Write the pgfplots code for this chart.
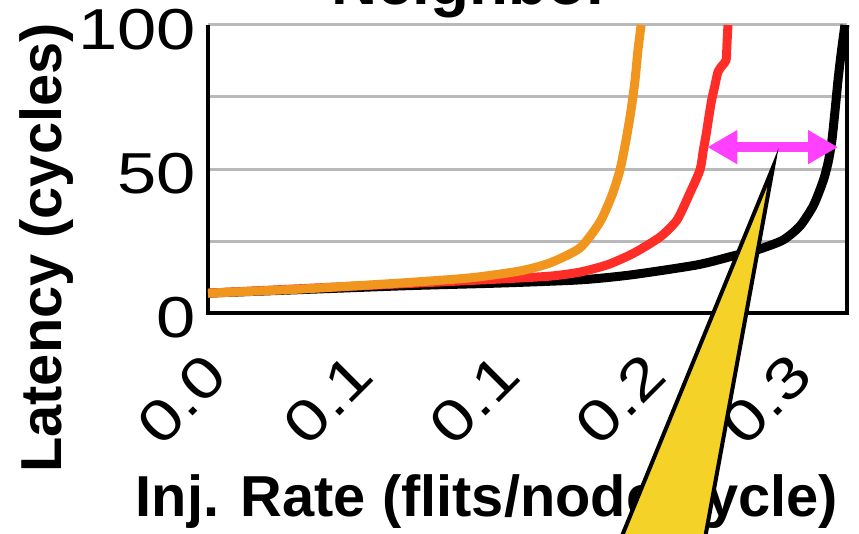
\documentclass[border=0pt]{standalone}
\usepackage{fontspec}
\setmainfont{Liberation Sans}
\newfontfamily\tickfont[FakeStretch=1.22]{Liberation Sans}
\usepackage{pgfplots}
\pgfplotsset{compat=1.18}
\usetikzlibrary{arrows.meta}
\definecolor{corange}{RGB}{240,150,30}
\definecolor{cred}{RGB}{255,45,40}
\definecolor{cmag}{RGB}{255,64,255}
\definecolor{cyel}{RGB}{245,210,40}
\definecolor{cgrid}{RGB}{185,185,185}
\begin{document}
\begin{tikzpicture}
\begin{axis}[
  scale only axis, width=639bp, height=288bp,
  xmin=0, xmax=0.306, ymin=0, ymax=100,
  xtick={0,0.07,0.14,0.21,0.28}, xticklabels={0.0,0.1,0.1,0.2,0.3},
  ytick={0,50,100}, minor ytick={25,75},
  ymajorgrids, yminorgrids,
  major grid style={draw=cgrid, line width=3bp},
  minor grid style={draw=cgrid, line width=3bp},
  major tick length=0pt, minor tick length=0pt,
  axis line style={draw=none},
  clip=false,
  tick label style={font=\tickfont\fontsize{58}{60}\selectfont},
  /pgf/number format/assume math mode=true,
  xticklabel style={inner sep=0pt, anchor=north east, xshift=-6bp, yshift=-37bp, rotate=45},
  yticklabel style={inner sep=0pt, anchor=east, xshift=-12bp, yshift=-5bp},
  title={Neighbor},
  title style={font=\bfseries\fontsize{64}{66}\selectfont, at={(axis description cs:0.4116,1.052)}, anchor=base},
  xlabel={Inj. Rate (flits/node/cycle)},
  xlabel style={font=\bfseries\fontsize{58}{60}\selectfont, at={(axis description cs:0.4366,-0.705)}, anchor=base},
  ylabel={Latency (cycles)},
  ylabel style={font=\bfseries\fontsize{58}{60}\selectfont, at={(axis description cs:-0.2285,0.226)}, anchor=base},
]
\draw[line width=4.5bp, line join=miter] (rel axis cs:0,1) -- (rel axis cs:0,0) -- (rel axis cs:1,0) -- (rel axis cs:1,1);
% black
\addplot[black, line width=9bp, line join=round, smooth, tension=0.4] coordinates {
(0,6.9) (0.0919,9.4) (0.1398,10.4) (0.1781,11.5) (0.2022,13.2) (0.2342,16.7) (0.2514,19.8)
(0.2629,21.9) (0.2753,25.3) (0.2835,30.2) (0.2897,37.0) (0.2930,42.7) (0.2953,47.5)
(0.2972,53.1) (0.2988,60.1) (0.3003,70.5) (0.3017,80.9) (0.3031,89.6) (0.3050,100)
};
% red
\addplot[cred, line width=9bp, line join=round, smooth, tension=0.4] coordinates {
(0,6.9) (0.0919,10.1) (0.1398,11.8) (0.1638,12.8) (0.1781,14.2) (0.1915,16.8) (0.2039,20.8)
(0.2165,26.4) (0.2246,32.3) (0.2308,41.7) (0.2356,49.7) (0.2372,56.6)
(0.2385,61.8) (0.2400,68.8) (0.2412,74.0) (0.2428,79.2) (0.2442,83.7) (0.2461,85.8)
(0.2481,87.8) (0.2485,93.1) (0.2490,100)
};
% orange
\addplot[corange, line width=9bp, line join=round, smooth, tension=0.4] coordinates {
(0,6.9) (0.0441,8.3) (0.0919,10.4) (0.1255,12.2) (0.1494,14.6) (0.1638,17.4) (0.1781,22.6)
(0.1877,31.6) (0.1935,41.0) (0.1973,49.7) (0.2002,60.1) (0.2026,70.5) (0.2045,80.9)
(0.2059,91.3) (0.2074,100)
};
\draw[cmag, line width=10bp, {Triangle[length=30bp,width=32bp]}-{Triangle[length=30bp,width=32bp]}]
  (axis cs:0.2391,57.6) -- (axis cs:0.3017,57.6);
\coordinate (tip) at (axis cs:0.2706,50.7);
\coordinate (bl) at (axis cs:0.1935,-85.8);
\coordinate (br) at (axis cs:0.2361,-85.8);
\end{axis}
\filldraw[fill=cyel, draw=black, line width=4bp, line join=miter] (tip) -- (bl) -- (br) -- cycle;
\pgfresetboundingbox
\useasboundingbox (-208bp,-221bp) rectangle (651bp,313bp);
\end{tikzpicture}
\end{document}
